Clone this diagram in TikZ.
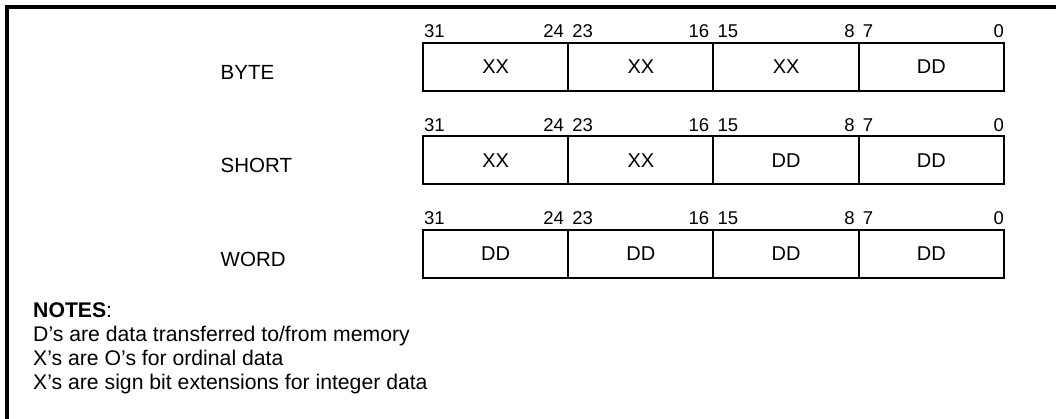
\documentclass[tikz,border=0pt]{standalone}
\usepackage{fontspec}
\setmainfont{Liberation Sans}
\usetikzlibrary{positioning}

\begin{document}
\begin{tikzpicture}[x=1pt,y=-1pt,font=\fontsize{20}{24}\selectfont,
  field/.style={draw,line width=2pt,minimum width=145.25pt,minimum height=48pt,
    inner sep=0pt,outer sep=0pt},
  bitnum/.style={inner sep=0pt,font=\fontsize{18.5}{22}\selectfont},
  rowname/.style={anchor=base west,inner sep=0pt,font=\fontsize{20.5}{24}\selectfont},
  noteline/.style={anchor=base west,inner sep=0pt,font=\fontsize{21.2}{24}\selectfont}]
  \useasboundingbox (0,0) rectangle (1056,419);
  \draw[line width=3.5pt] (7,419) -- (7,7) -- (1056,7);
  % one register layout per row
  \foreach \k/\name/\fa/\fb/\fc/\fd in {0/BYTE/XX/XX/XX/DD, 1/SHORT/XX/XX/DD/DD, 2/WORD/DD/DD/DD/DD}{
    \pgfmathsetmacro{\yy}{66.7+\k*93.5}
    \node[field] (f\k a) at (495.6,\yy) {\fa};
    \node[field,right=0pt of f\k a] (f\k b) {\fb};
    \node[field,right=0pt of f\k b] (f\k c) {\fc};
    \node[field,right=0pt of f\k c] (f\k d) {\fd};
    \node[bitnum,above right=4.5pt and 1pt of f\k a.north west] (b\k n31) {31};
    \node[bitnum,above left=4.5pt and 4pt of f\k a.north east] (b\k n24) {24};
    \node[bitnum,above right=4.5pt and 4pt of f\k b.north west] (b\k n23) {23};
    \node[bitnum,above left=4.5pt and 4pt of f\k b.north east] (b\k n16) {16};
    \node[bitnum,above right=4.5pt and 4pt of f\k c.north west] (b\k n15) {15};
    \node[bitnum,above left=4.5pt and 4pt of f\k c.north east] (b\k n8) {8};
    \node[bitnum,above right=4.5pt and 4pt of f\k d.north west] (b\k n7) {7};
    \node[bitnum,above left=4.5pt and 0pt of f\k d.north east] (b\k n0) {0};
    \node[rowname] (r\k) at (220.5,\yy+12.4) {\name};
  }
  \node[noteline] (notes) at (33,317) {\textbf{NOTES}:};
  \node[noteline] (note1) at (33,341.3) {D's are data transferred to/from memory};
  \node[noteline] (note2) at (33,365.6) {X's are O's for ordinal data};
  \node[noteline] (note3) at (33,389.9) {X's are sign bit extensions for integer data};
\end{tikzpicture}
\end{document}
